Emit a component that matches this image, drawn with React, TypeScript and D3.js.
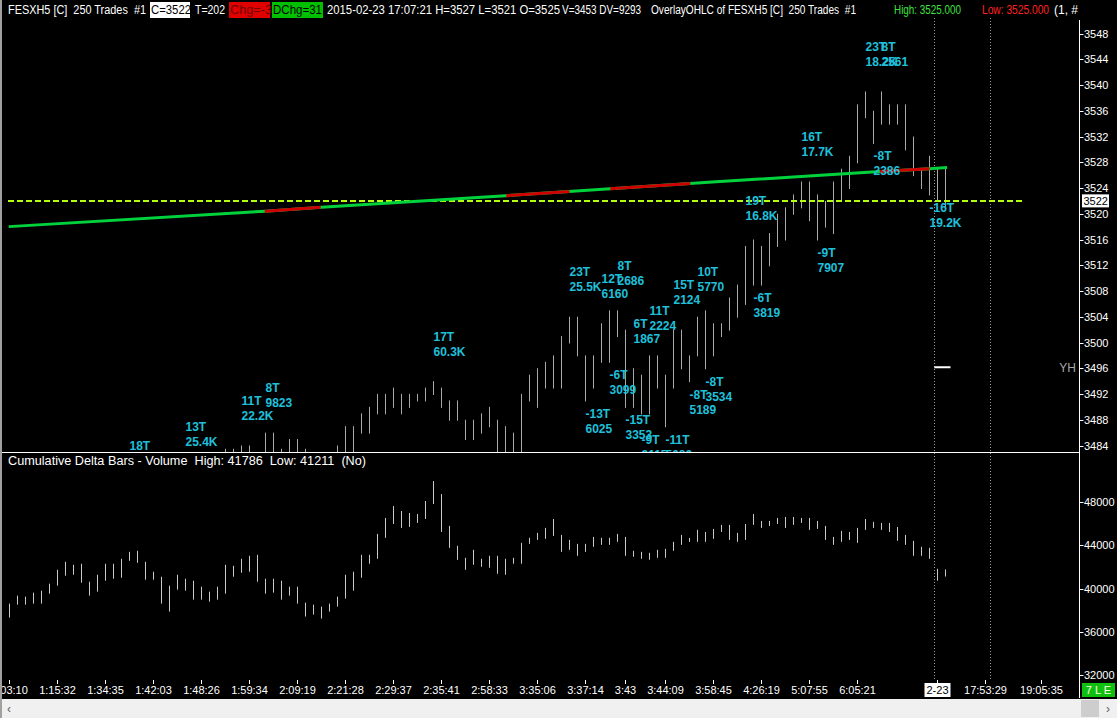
import React, { useEffect } from 'react';
import * as d3 from 'd3';

// ---------- DATA ----------
// Price bars (upper pane), starting at bar index 27 (earlier bars lie below the visible range)
const priceStartIndex = 27;
const priceHigh: (number | null)[] = [
  3483.5, 3483.5, 3484, 3484, null, 3486, 3486, 3483.5, 3485, 3485, 3483.5, null, null, null,
  3484, 3487, 3487, 3489, 3490, 3492, 3492, 3493, 3492, 3492, 3492, 3493, 3494, 3493, 3491, 3491,
  3488, 3488, 3489, 3490, 3488, 3487, 3486, 3492, 3495, 3496, 3497, 3498, 3501, 3504, 3504, 3498,
  3498, 3503, 3505, 3505, 3502, 3496, 3495, 3498, 3498, 3495, 3502, 3502, 3498, 3504, 3505, 3503,
  3503, 3507, 3509, 3515, 3516, 3515, 3517, 3520, 3521, 3523, 3525, 3525, 3523, 3522, 3525, 3527,
  3529, 3537, 3539, 3536, 3539, 3537, 3537, 3537, 3532, 3527, 3529, 3527, 3527,
];
const priceLow: (number | null)[] = [
  3480, 3480, 3480, 3480, null, 3480, 3480, 3480, 3480, 3480, 3480, null, null, null,
  3480, 3480, 3483, 3486, 3486, 3489, 3489, 3490, 3489, 3490, 3491, 3491, 3492, 3490, 3488, 3488,
  3485, 3485, 3486, 3487, 3482, 3480, 3480, 3480, 3491, 3490, 3493, 3493, 3493, 3500, 3498, 3491,
  3493, 3497, 3497, 3501, 3490, 3490, 3489, 3489, 3493, 3487, 3493, 3496, 3494, 3498, 3496, 3498,
  3501, 3502, 3504, 3506, 3509, 3509, 3512, 3515, 3516, 3520, 3521, 3519, 3516, 3518, 3517, 3522,
  3524, 3528, 3535, 3531, 3534, 3534, 3534, 3530, 3526, 3524, 3523, 3522, 3521,
];
const lastClose = 3522;
const yesterdayHigh = 3496;

// Overlay line (bar index, price) and its red sections (bar index ranges)
const overlayIndex = [-0.1, 32, 39, 62, 88.8, 107.8, 115, 117.2];
const overlayValue = [3518.0, 3520.4, 3521.0, 3522.8, 3525.0, 3526.5, 3527.0, 3527.2];
const overlayRedFrom = [31.9, 62.1, 75.1, 108.8];
const overlayRedTo = [38.9, 70.0, 85.1, 115.0];

// Cumulative delta bars (lower pane), bar index 0..117
const deltaHigh = [
  38613, 39351, 39259, 39628, 39813, 40459, 41751, 42489, 42212, 42305, 40644, 41290, 42305, 42305,
  42766, 43412, 43505, 42489, 41566, 41105, 40274, 41290, 40921, 40736, 40182, 39720, 40182, 42212,
  42120, 42766, 43043, 43135, 40921, 40921, 40736, 40182, 40182, 38705, 38520, 38336, 38613, 39259,
  41290, 41566, 43135, 43135, 45074, 46551, 47659, 47197, 47012, 46920, 48120, 49966, 48766, 45812,
  43966, 42859, 43597, 42766, 43043, 43043, 42766, 42859, 44243, 44705, 45166, 45628, 46458, 44982,
  44520, 44151, 44151, 44797, 44705, 44705, 45074, 44797, 43505, 43412, 43320, 43597, 43689, 44335,
  44982, 44705, 45443, 45258, 45535, 45905, 45905, 45166, 45997, 46920, 46274, 46274, 46551, 46643,
  46643, 46551, 46551, 46274, 45812, 44797, 45351, 45258, 45628, 46458, 46182, 46089, 46089, 45720,
  44982, 44428, 43874, 43782, 41843, 41786,
];
const deltaLow = [
  37413, 38613, 38613, 38705, 38705, 39628, 40367, 41290, 41382, 40644, 39443, 39813, 40828, 41013,
  41105, 42674, 42489, 40921, 40921, 38705, 37966, 39997, 39905, 39074, 39074, 38890, 39074, 39628,
  41197, 41566, 41659, 40736, 39628, 39720, 39074, 39443, 38705, 37505, 37689, 37320, 37966, 38428,
  39166, 39905, 41105, 42397, 42859, 44797, 46090, 45720, 45813, 46182, 46551, 47935, 45351, 43874,
  42766, 41843, 42305, 42120, 42028, 41474, 41382, 42397, 42397, 44243, 44612, 44705, 44982, 43505,
  43689, 43135, 43505, 43966, 44151, 44151, 44428, 43135, 43043, 42859, 42766, 42951, 42951, 43597,
  44151, 44428, 44428, 44428, 44705, 45351, 44612, 44428, 44612, 45997, 45720, 45905, 46089, 45720,
  45997, 46182, 45535, 45628, 44612, 44151, 44428, 44612, 44335, 45535, 45720, 45535, 45351, 44520,
  44151, 43135, 43135, 42859, 40828, 41211,
];

// Number-bar annotations
const annIndex = [15, 22, 29, 32, 53, 70, 72, 74, 75, 76, 77, 78, 79, 80, 82, 83, 85, 86, 87, 92, 93, 99, 101, 107, 108, 109, 115];
const annLevel = [3484, 3487, 3491, 3493, 3501, 3511, 3489, 3510, 3495, 3512, 3488, 3503, 3485, 3505, 3485, 3509, 3492, 3511, 3494, 3522, 3507, 3532, 3514, 3546, 3529, 3546, 3521];
const annTrades = ['18T', '13T', '11T', '8T', '17T', '23T', '-13T', '12T', '-6T', '8T', '-15T', '6T', '-9T', '11T', '-11T', '15T', '-8T', '10T', '-8T', '19T', '-6T', '16T', '-9T', '23T', '-8T', '8T', '-16T'];
const annVolume = ['', '25.4K', '22.2K', '9823', '60.3K', '25.5K', '6025', '6160', '3099', '2686', '3353', '1867', '2115', '2224', '5080', '2124', '5189', '5770', '3534', '16.8K', '3819', '17.7K', '7907', '18.2K', '2386', '2561', '19.2K'];

// Axes
const priceTicks = [3548, 3544, 3540, 3536, 3532, 3528, 3524, 3520, 3516, 3512, 3508, 3504, 3500, 3496, 3492, 3488, 3484];
const deltaTicks = [48000, 44000, 40000, 36000, 32000];
const timeIndex = [0, 6, 12, 18, 24, 30, 36, 42, 48, 54, 60, 66, 72, 77, 82, 88, 94, 100, 106, 116, 122, 129];
const timeLabels = ['1:03:10', '1:15:32', '1:34:35', '1:42:03', '1:48:26', '1:59:34', '2:09:19', '2:21:28', '2:29:37', '2:35:41', '2:58:33', '3:35:06', '3:37:14', '3:43', '3:44:09', '3:58:45', '4:26:19', '5:07:55', '6:05:21', '2-23', '17:53:29', '19:05:35'];
const dateLabel = '2-23';
const sessionBreaks = [115.5, 122.5];

const FONT = "'Liberation Sans', Arial, sans-serif";

export default function App() {
  useEffect(() => {
    document.body.style.margin = '0';
    document.body.style.background = '#000';
  }, []);

  const W = 1117;
  const H = 718;
  const axisX = 1079.5;
  const upTop = 20, upBottom = 452;
  const loTop = 453, loBottom = 680;

  const x = d3.scaleLinear().domain([0, 117]).range([9.5, 945.5]);
  const yP = d3.scaleLinear().domain([3484, 3548]).range([445.5, 33.5]);
  const yD = d3.scaleLinear().domain([32000, 48000]).range([675, 502.3]);

  const overlayPts: [number, number][] = overlayIndex.map((k, i) => [k, overlayValue[i]]);
  const overlayPath = d3.line<[number, number]>().x(d => x(d[0])).y(d => yP(d[1]))(overlayPts) || '';

  const txt = { fontFamily: FONT, whiteSpace: 'pre' as const };
  const T = (props: any) => <text xmlSpace="preserve" style={txt} {...props} />;

  return (
    <svg width={W} height={H} style={{ display: 'block', background: '#000' }}>
      <defs>
        <clipPath id="upClip"><rect x={0} y={upTop} width={axisX} height={upBottom - upTop} /></clipPath>
        <clipPath id="loClip"><rect x={0} y={loTop} width={axisX} height={loBottom - loTop} /></clipPath>
        <clipPath id="hdrClip"><rect x={0} y={0} width={1079} height={20} /></clipPath>
        <clipPath id="loAxisClip"><rect x={axisX} y={loTop} width={40} height={loBottom - loTop - 1} /></clipPath>
        {overlayRedFrom.map((a, i) => (
          <clipPath key={i} id={`red${i}`}>
            <rect x={x(a)} y={0} width={x(overlayRedTo[i]) - x(a)} height={H} />
          </clipPath>
        ))}
      </defs>
      <rect x={0} y={0} width={W} height={H} fill="#000" />

      {/* Header */}
      <g clipPath="url(#hdrClip)" fontSize={12}>
        <T x={8} y={14} fill="#fff" textLength={138} lengthAdjust="spacingAndGlyphs">FESXH5 [C]  250 Trades  #1</T>
        <rect x={150} y={2} width={40} height={16} fill="#fff" />
        <T x={151} y={14} fill="#000" textLength={40} lengthAdjust="spacingAndGlyphs">C={lastClose}</T>
        <T x={195} y={14} fill="#fff" textLength={30} lengthAdjust="spacingAndGlyphs">T=202</T>
        <rect x={229} y={2} width={41} height={16} fill="#e00000" />
        <T x={230} y={14} fill="#700000" textLength={42} lengthAdjust="spacingAndGlyphs">Chg=-3</T>
        <rect x={272} y={2} width={51} height={16} fill="#00c000" />
        <T x={273} y={14} fill="#000" textLength={49} lengthAdjust="spacingAndGlyphs">DChg=31</T>
        <T x={327} y={14} fill="#fff" textLength={233} lengthAdjust="spacingAndGlyphs">2015-02-23 17:07:21 H=3527 L=3521 O=3525</T>
        <T x={562} y={14} fill="#fff" textLength={79} lengthAdjust="spacingAndGlyphs">V=3453 DV=9293</T>
        <T x={651} y={14} fill="#fff" textLength={205} lengthAdjust="spacingAndGlyphs">OverlayOHLC of FESXH5 [C]  250 Trades  #1</T>
        <T x={894} y={14} fill="#40e040" textLength={67} lengthAdjust="spacingAndGlyphs">High: 3525.000</T>
        <T x={982} y={14} fill="#ff2020" textLength={67} lengthAdjust="spacingAndGlyphs">Low: 3525.000</T>
        <T x={1054} y={14} fill="#fff">(1, #</T>
      </g>

      {/* Session break dotted lines */}
      {sessionBreaks.map((k, i) => (
        <line key={i} x1={Math.round(x(k)) + 0.5} x2={Math.round(x(k)) + 0.5} y1={18} y2={loBottom}
          stroke="#9a9a9a" strokeWidth={1} strokeDasharray="1 2" />
      ))}

      {/* Upper pane */}
      <g clipPath="url(#upClip)">
        {priceHigh.map((h, i) => {
          const l = priceLow[i];
          if (h == null || l == null) return null;
          const k = priceStartIndex + i;
          return <line key={i} x1={x(k)} x2={x(k)} y1={yP(h)} y2={yP(l) + 1} stroke="#a8a8a8" strokeWidth={1} />;
        })}
        <line x1={8} x2={1023} y1={yP(lastClose)} y2={yP(lastClose)} stroke="#b4ff10" strokeWidth={2} strokeDasharray="6 3" />
        <path d={overlayPath} fill="none" stroke="#00d23c" strokeWidth={3} />
        {overlayRedFrom.map((_, i) => (
          <path key={i} d={overlayPath} fill="none" stroke="#d00000" strokeWidth={3} clipPath={`url(#red${i})`} />
        ))}
        <line x1={x(115.6)} x2={x(117) + 5} y1={yP(yesterdayHigh) - 1} y2={yP(yesterdayHigh) - 1} stroke="#fff" strokeWidth={2} />
        <T x={1076} y={yP(yesterdayHigh) + 4} textAnchor="end" fontSize={12} fill="#a8a8a8">YH</T>
        {annIndex.map((k, i) => (
          <g key={i} fontSize={12} fontWeight="bold" fill="#1ec0dc">
            <T x={x(k)} y={yP(annLevel[i]) + 4.5}>{annTrades[i]}</T>
            <T x={x(k)} y={yP(annLevel[i]) + 19.5}>{annVolume[i]}</T>
          </g>
        ))}
      </g>

      {/* Pane divider */}
      <line x1={0} x2={axisX} y1={452.5} y2={452.5} stroke="#fff" strokeWidth={1} />

      {/* Lower pane */}
      <T x={8} y={465} fontSize={12} fill="#fff" textLength={358} lengthAdjust="spacingAndGlyphs">{`Cumulative Delta Bars - Volume  High: ${deltaHigh[deltaHigh.length - 1]}  Low: ${deltaLow[deltaLow.length - 1]}  (No)`}</T>
      <g clipPath="url(#loClip)">
        {deltaHigh.map((h, k) => (
          <line key={k} x1={x(k)} x2={x(k)} y1={yD(h)} y2={yD(deltaLow[k]) + 1} stroke="#c8c8c8" strokeWidth={1} />
        ))}
      </g>

      {/* Right axis */}
      <line x1={axisX} x2={axisX} y1={20} y2={698} stroke="#fff" strokeWidth={1} />
      {priceTicks.map(t => (
        <g key={t}>
          <line x1={axisX} x2={axisX + 4} y1={Math.round(yP(t)) + 0.5} y2={Math.round(yP(t)) + 0.5} stroke="#fff" />
          <T x={1084} y={yP(t) + 4} fontSize={11} fill="#fff">{t}</T>
        </g>
      ))}
      <rect x={1082} y={yP(lastClose) - 6.5} width={27} height={13} fill="#fff" />
      <T x={1083.5} y={yP(lastClose) + 4} fontSize={11} fill="#000">{lastClose}</T>
      <g clipPath="url(#loAxisClip)">
        {deltaTicks.map(t => (
          <g key={t}>
            <line x1={axisX} x2={axisX + 4} y1={Math.round(yD(t)) + 0.5} y2={Math.round(yD(t)) + 0.5} stroke="#fff" />
            <T x={1084} y={yD(t) + 4} fontSize={11} fill="#fff">{t}</T>
          </g>
        ))}
      </g>

      {/* Time axis */}
      {timeIndex.map((k, i) => {
        const cx = x(k);
        const isDate = timeLabels[i] === dateLabel;
        return (
          <g key={i}>
            <line x1={cx} x2={cx} y1={680} y2={684} stroke="#fff" />
            {isDate && <rect x={cx - 13} y={683} width={26} height={14} fill="#fff" />}
            <T x={cx} y={694} textAnchor="middle" fontSize={11} fill={isDate ? '#000' : '#fff'}>{timeLabels[i]}</T>
          </g>
        );
      })}
      <rect x={1082} y={683} width={33} height={14} fill="#10c010" />
      <T x={1098.5} y={694} textAnchor="middle" fontSize={11} fill="#ffffe0">7 L E</T>

      {/* Scrollbar */}
      <rect x={0} y={699} width={W} height={19} fill="#f0f0f0" />
      <rect x={1081} y={700} width={18} height={17} fill="#cdcdcd" />
      <T x={7} y={713} fontSize={12} fill="#606060">‹</T>
      <T x={1106} y={713} fontSize={12} fill="#606060">›</T>

      {/* Left border */}
      <rect x={0} y={0} width={2} height={H} fill="#a0a0a0" />
    </svg>
  );
}
